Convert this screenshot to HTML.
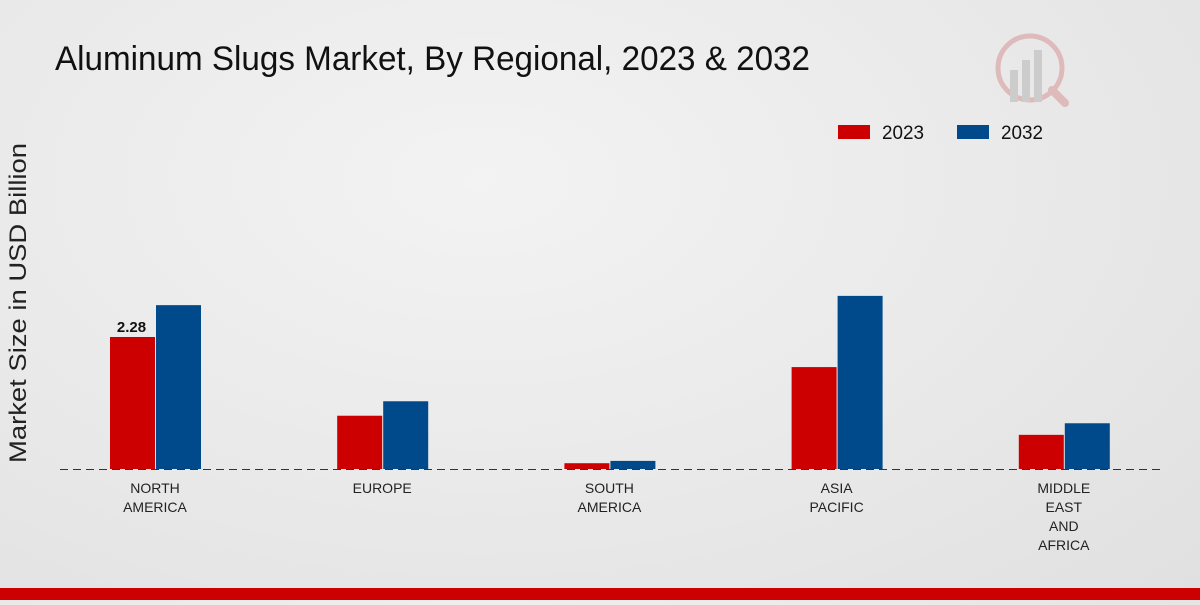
<!DOCTYPE html>
<html><head><meta charset="utf-8"><style>
html,body{margin:0;padding:0}
body{width:1200px;height:600px;overflow:hidden;background:radial-gradient(ellipse at 40% 30%,#f3f3f3 0%,#e8e8e8 60%,#e0e0e0 100%);font-family:"Liberation Sans",sans-serif}
</style></head><body>
<svg id="chart" width="1200" height="600" xmlns="http://www.w3.org/2000/svg">
<text x="55" y="70" font-size="34" fill="#111" textLength="755" lengthAdjust="spacingAndGlyphs">Aluminum Slugs Market, By Regional, 2023 &amp; 2032</text>
<g opacity="0.35">
<circle cx="1030" cy="68" r="32" fill="none" stroke="#c66" stroke-width="5"/>
<rect x="1010" y="70" width="8" height="32" fill="#999"/>
<rect x="1022" y="60" width="8" height="42" fill="#999"/>
<rect x="1034" y="50" width="8" height="52" fill="#999"/>
<line x1="1052" y1="90" x2="1065" y2="103" stroke="#c66" stroke-width="8" stroke-linecap="round"/>
</g>
<g>
<rect x="838" y="125" width="32" height="14" fill="#cc0000"/>
<text x="882" y="139" font-size="19" fill="#111" textLength="42" lengthAdjust="spacingAndGlyphs">2023</text>
<rect x="957" y="125" width="32" height="14" fill="#004a8c"/>
<text x="1001" y="139" font-size="19" fill="#111" textLength="42" lengthAdjust="spacingAndGlyphs">2032</text>
</g>
<text transform="translate(26,303) rotate(-90)" text-anchor="middle" font-size="24" fill="#222" textLength="320" lengthAdjust="spacingAndGlyphs">Market Size in USD Billion</text>
<g id="bars"></g>
<line x1="60" y1="469.5" x2="1160" y2="469.5" stroke="#333" stroke-dasharray="8,5" stroke-width="1"/>
<g id="xlabels"></g>
<rect x="0" y="588" width="1200" height="12" fill="#cc0000"/>
</svg>
<script>
const categories=[["NORTH","AMERICA"],["EUROPE"],["SOUTH","AMERICA"],["ASIA","PACIFIC"],["MIDDLE","EAST","AND","AFRICA"]];
const values2023=[2.28,0.92,0.10,1.76,0.59];
const values2032=[2.83,1.17,0.14,2.99,0.79];
const ns="http://www.w3.org/2000/svg";
const baseY=469, pxPerUnit=57.9, x0=155, step=227.2, bw=45;
const yScale=v=>baseY-v*pxPerUnit;
const xCenter=i=>x0+i*step;
const bars=document.getElementById('bars'), xl=document.getElementById('xlabels');
function bar(x,v,color,name){const r=document.createElementNS(ns,'rect');
r.setAttribute('x',x);r.setAttribute('y',yScale(v));r.setAttribute('width',bw);r.setAttribute('height',baseY-yScale(v));r.setAttribute('fill',color);


bars.appendChild(r);}
categories.forEach((c,i)=>{
const cx=xCenter(i);
bar(cx-bw,values2023[i],'#cc0000','bar-2023-'+i);
bar(cx+1,values2032[i],'#004a8c','bar-2032-'+i);
c.forEach((line,j)=>{const t=document.createElementNS(ns,'text');
t.setAttribute('x',cx);t.setAttribute('y',493+j*19);t.setAttribute('text-anchor','middle');t.setAttribute('font-size','14');t.setAttribute('fill','#222');
t.textContent=line;


xl.appendChild(t);});
});
const lbl=document.createElementNS(ns,'text');
lbl.setAttribute('x',xCenter(0)-bw/2-1);lbl.setAttribute('y',yScale(values2023[0])-5);lbl.setAttribute('text-anchor','middle');lbl.setAttribute('font-size','15');lbl.setAttribute('font-weight','bold');lbl.setAttribute('fill','#111');
lbl.textContent=values2023[0].toFixed(2);


bars.appendChild(lbl);
</script>
</body></html>
